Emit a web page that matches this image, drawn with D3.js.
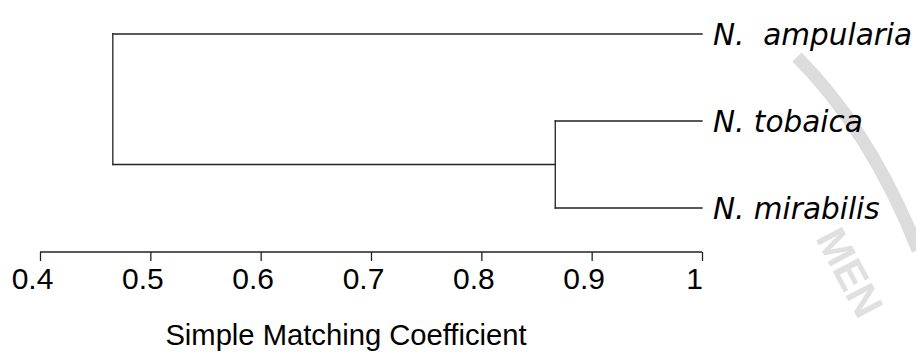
<!DOCTYPE html>
<html>
<head>
<meta charset="utf-8">
<script src="https://cdn.jsdelivr.net/npm/d3@7"></script>
<style>
  body { margin: 0; background: #fff; }
  svg { display: block; }
</style>
</head>
<body>
<div id="chart"></div>
<script>
// leaves, top to bottom
var leaves = ["N.  ampularia", "N. tobaica", "N. mirabilis"];
// merges: [left child, right child, height]
var merges = [
  ["N. tobaica", "N. mirabilis", 0.867],
  ["N.  ampularia", "tob+mir", 0.466]
];
var ticks = [0.4, 0.5, 0.6, 0.7, 0.8, 0.9, 1];
var axisTitle = "Simple Matching Coefficient";

var width = 916, height = 353;

var svg = d3.select("#chart").append("svg")
  .attr("width", width)
  .attr("height", height);

// faint watermark on the right
svg.append("path")
  .attr("d", "M797,57 Q870,130 918,250")
  .attr("fill", "none")
  .attr("stroke", "#dcdcdc")
  .attr("stroke-width", 13);
svg.append("text")
  .attr("transform", "translate(815,238) rotate(62)")
  .style("font-family", "Liberation Sans, Arial, sans-serif")
  .style("font-size", "42px")
  .style("font-weight", "bold")
  .style("fill", "#e0e0e0")
  .text("MEN");

var x = d3.scaleLinear().domain([0.4, 1]).range([40, 702]);
var y = d3.scalePoint().domain(leaves).range([34, 208]);

// node positions
var pos = {};
leaves.forEach(function (l) { pos[l] = { x: x(1), y: y(l) }; });

var lines = [];
merges.forEach(function (m, i) {
  var a = pos[m[0]], b = pos[m[1]], hx = x(m[2]);
  lines.push([a.x, a.y, hx, a.y]);
  lines.push([b.x, b.y, hx, b.y]);
  lines.push([hx, a.y, hx, b.y]);
  var key = i === 0 ? "tob+mir" : "root";
  pos[key] = { x: hx, y: (a.y + b.y) / 2 };
});

svg.selectAll(".branch")
  .data(lines)
  .enter().append("line")
  .attr("class", "branch")
  .attr("x1", d => d[0]).attr("y1", d => d[1])
  .attr("x2", d => d[2]).attr("y2", d => d[3])
  .attr("stroke", "#222")
  .attr("stroke-width", 1.3)
  .attr("stroke-linecap", "square");

svg.selectAll(".leaf")
  .data(leaves)
  .enter().append("text")
  .attr("class", "leaf")
  .attr("x", x(1) + 11)
  .attr("y", d => y(d))
  .attr("dy", "0.36em")
  .style("font-family", "DejaVu Sans, Verdana, sans-serif")
  .style("font-style", "italic")
  .style("font-size", "29.5px")
  .style("white-space", "pre")
  .style("fill", "#000")
  .text(d => d);

var xAxis = d3.axisBottom(x)
  .tickValues(ticks)
  .tickSize(9)
  .tickPadding(8)
  .tickFormat(d => d3.format("")(d));

var ax = svg.append("g")
  .attr("transform", "translate(0,252)")
  .call(xAxis);

ax.select(".domain").attr("stroke", "#222").attr("stroke-width", 1.3)
  .attr("d", "M" + x(0.4) + ",0H" + x(1));
ax.selectAll(".tick line").attr("stroke", "#222").attr("stroke-width", 1.3);
ax.selectAll(".tick text")
  .attr("dy", "0")
  .attr("y", 37)
  .attr("dx", -8)
  .style("font-family", "Liberation Sans, Arial, sans-serif")
  .style("font-size", "30px")
  .style("fill", "#000");

svg.append("text")
  .attr("x", 346)
  .attr("y", 345)
  .attr("text-anchor", "middle")
  .style("font-family", "Liberation Sans, Arial, sans-serif")
  .style("font-size", "29.2px")
  .style("fill", "#000")
  .text(axisTitle);
</script>
</body>
</html>
